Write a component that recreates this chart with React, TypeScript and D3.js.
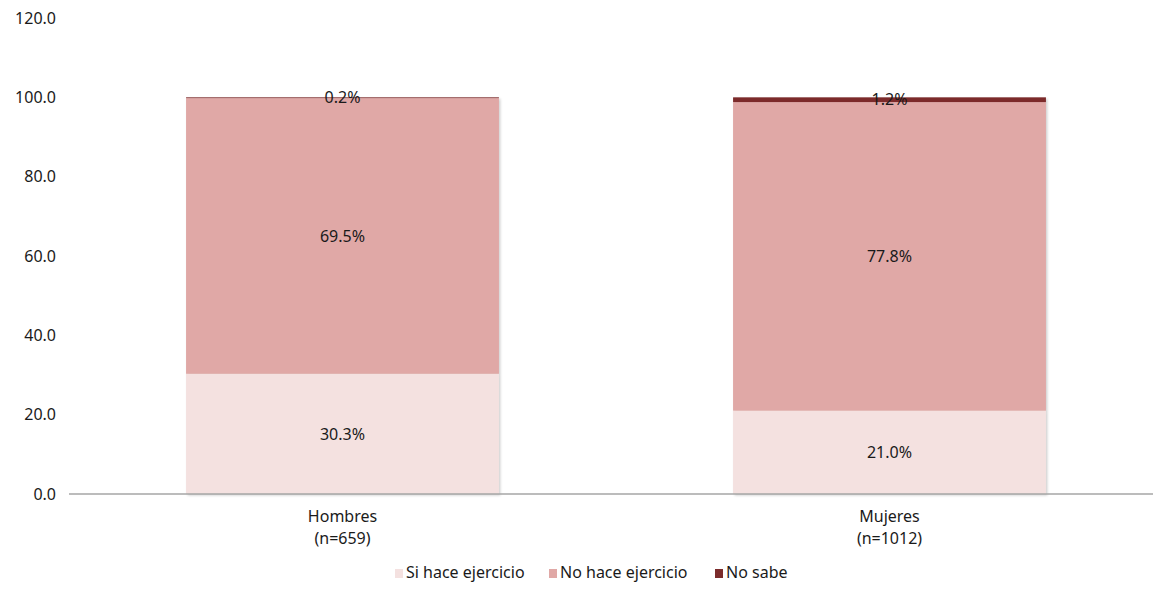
import React from "react";
import * as d3 from "d3";

const categories = ["Hombres", "Mujeres"];
const categorySub = ["(n=659)", "(n=1012)"];
const seriesNames = ["Si hace ejercicio", "No hace ejercicio", "No sabe"];
const siHace = [30.3, 21.0];
const noHace = [69.5, 77.8];
const noSabe = [0.2, 1.2];
const yTicks = [0, 20, 40, 60, 80, 100, 120];
const colors = ["#F4E1E0", "#E0A8A6", "#7B2C2C"];

const W = 1153;
const H = 589;
const FONT = "'Noto Sans', sans-serif";

export default function App() {
  const x = d3
    .scaleBand<string>()
    .domain(categories)
    .range([69, 1163])
    .paddingInner(0.428)
    .paddingOuter(0.214);
  const y = d3.scaleLinear().domain([0, 120]).range([494, 18]);

  const rows = categories.map((c, i) => ({
    cat: c,
    s0: siHace[i],
    s1: noHace[i],
    s2: noSabe[i],
  }));
  const stack = d3.stack<any>().keys(["s0", "s1", "s2"]);
  const series = stack(rows);

  return (
    <svg
      width={W}
      height={H}
      style={{ position: "absolute", left: 0, top: 0 }}
      fontFamily={FONT}
    >
      <defs>
        <filter id="sh" x="-5%" y="-5%" width="110%" height="110%">
          <feDropShadow dx="1.5" dy="1.5" stdDeviation="1" floodColor="#000" floodOpacity="0.18" />
        </filter>
      </defs>
      {yTicks.map((t) => (
        <text
          key={t}
          x={56}
          y={y(t)}
          dy="0.35em"
          textAnchor="end"
          fontSize={16}
          fill="#1a1a1a"
        >
          {t.toFixed(1)}
        </text>
      ))}
      {categories.map((c) => {
        const segs = series.map((s) => s.find((d) => d.data.cat === c)!);
        return (
          <g key={c} filter="url(#sh)">
            {segs.map((d, k) => (
              <rect
                key={k}
                x={x(c)!}
                width={x.bandwidth()}
                y={y(d[1])}
                height={y(d[0]) - y(d[1])}
                fill={colors[k]}
              />
            ))}
          </g>
        );
      })}
      <line x1={69} x2={W} y1={y(0)} y2={y(0)} stroke="#A6A6A6" strokeWidth={1.5} />
      {series.map((s, k) =>
        s.map((d) => (
          <text
            key={k + d.data.cat}
            x={x(d.data.cat)! + x.bandwidth() / 2}
            y={y((d[0] + d[1]) / 2)}
            dy="0.35em"
            textAnchor="middle"
            fontSize={16}
            fill="#1a1a1a"
          >
            {(d[1] - d[0]).toFixed(1) + "%"}
          </text>
        ))
      )}
      {categories.map((c, i) => (
        <text
          key={c}
          x={x(c)! + x.bandwidth() / 2}
          textAnchor="middle"
          fontSize={16}
          fill="#1a1a1a"
        >
          <tspan x={x(c)! + x.bandwidth() / 2} y={522}>
            {c}
          </tspan>
          <tspan x={x(c)! + x.bandwidth() / 2} y={544}>
            {categorySub[i]}
          </tspan>
        </text>
      ))}
      {(() => {
        const starts = [395, 549, 715];
        return seriesNames.map((n, k) => (
          <g key={n}>
            <rect x={starts[k]} y={569} width={8} height={9} fill={colors[k]} />
            <text x={starts[k] + 11} y={578} fontSize={16} fill="#1a1a1a">
              {n}
            </text>
          </g>
        ));
      })()}
    </svg>
  );
}
